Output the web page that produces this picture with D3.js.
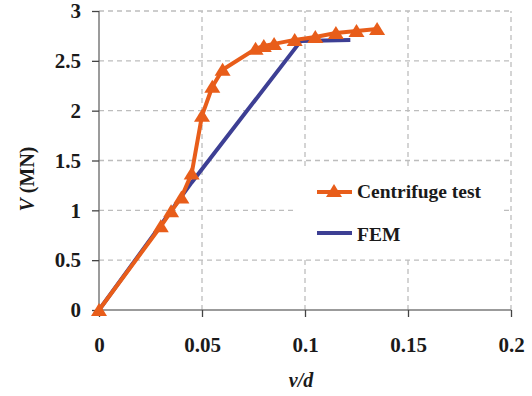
<!DOCTYPE html>
<html>
<head>
<meta charset="utf-8">
<script src="https://cdn.jsdelivr.net/npm/d3@7"></script>
<style>
  html, body { margin: 0; padding: 0; background: #fff; }
  svg { display: block; }
  text { font-family: "Liberation Serif", "Times New Roman", serif; font-weight: bold; fill: #1a1a1a; }
</style>
</head>
<body>
<svg id="chart" width="532" height="396"></svg>
<script>
// Centrifuge test: horizontal load V (MN) against normalised displacement v/d
const testDisp = [0, 0.03, 0.035, 0.04, 0.045, 0.05, 0.055, 0.06, 0.076, 0.08, 0.085, 0.095, 0.105, 0.115, 0.125, 0.135];
const testLoad = [0, 0.84, 0.99, 1.13, 1.37, 1.95, 2.24, 2.41, 2.62, 2.65, 2.67, 2.71, 2.74, 2.78, 2.80, 2.82];

// FEM prediction
const femDisp = [0, 0.045, 0.098, 0.122];
const femLoad = [0, 1.28, 2.70, 2.71];

const xTicks = [0, 0.05, 0.1, 0.15, 0.2];
const yTicks = [0, 0.5, 1, 1.5, 2, 2.5, 3];

const seriesNames = ["Centrifuge test", "FEM"];
const colors = { test: "#e85d1a", fem: "#3d3f94" };

const svg = d3.select("#chart");
const x = d3.scaleLinear().domain([0, 0.2]).range([99, 511]);
const y = d3.scaleLinear().domain([0, 3]).range([310, 11]);

// dashed grid
const grid = svg.append("g");
grid.selectAll(".gx").data(xTicks.slice(1)).join("line")
  .attr("x1", d => x(d)).attr("x2", d => x(d))
  .attr("y1", y(0)).attr("y2", y(3))
  .attr("stroke", "#bdbdbd").attr("stroke-width", 1.3).attr("stroke-dasharray", "5,4");
grid.selectAll(".gy").data(yTicks.slice(1)).join("line")
  .attr("x1", x(0)).attr("x2", x(0.2))
  .attr("y1", d => y(d)).attr("y2", d => y(d))
  .attr("stroke", "#bdbdbd").attr("stroke-width", 1.3).attr("stroke-dasharray", "5,4");

// axes
const xAxis = d3.axisBottom(x).tickValues(xTicks).tickSize(7).tickPadding(20)
  .tickFormat(d => d === 0 ? "0" : String(d));
const yAxis = d3.axisLeft(y).tickValues(yTicks).tickSize(7).tickPadding(11)
  .tickFormat(d => String(d));

const gx = svg.append("g").attr("transform", `translate(0,${y(0)})`).call(xAxis);
const gy = svg.append("g").attr("transform", `translate(${x(0)},0)`).call(yAxis);
[gx, gy].forEach(g => {
  g.select(".domain").attr("stroke", "#7a7a7a").attr("stroke-width", 1.5);
  g.selectAll(".tick line").attr("stroke", "#444").attr("stroke-width", 1.3);
  g.selectAll(".tick text").attr("font-size", 21).attr("font-family", "Liberation Serif")
    .attr("font-weight", "bold").attr("fill", "#1a1a1a");
});
gy.select(".domain").attr("d", `M0,${y(0)}V${y(3)}`);
gx.select(".domain").attr("d", `M0,0H${x(0.2) - x(0)}`).attr("transform", `translate(${x(0)},0)`);

// legend box (covers grid behind it)
svg.append("rect").attr("x", 297).attr("y", 167).attr("width", 206).attr("height", 91).attr("fill", "#fff");

const line = d3.line().x(d => x(d[0])).y(d => y(d[1]));
const femPts = femDisp.map((d, i) => [d, femLoad[i]]);
const testPts = testDisp.map((d, i) => [d, testLoad[i]]);

svg.append("path").datum(femPts).attr("d", line)
  .attr("fill", "none").attr("stroke", colors.fem).attr("stroke-width", 4).attr("stroke-linejoin", "round");
svg.append("path").datum(testPts).attr("d", line)
  .attr("fill", "none").attr("stroke", colors.test).attr("stroke-width", 4).attr("stroke-linejoin", "round");

const tri = "M0,-7L8,6L-8,6Z";
svg.selectAll(".mk").data(testPts).join("path")
  .attr("d", tri).attr("fill", colors.test)
  .attr("transform", d => `translate(${x(d[0])},${y(d[1])})`);

// legend entries
const leg = svg.append("g");
leg.append("line").attr("x1", 317).attr("x2", 352).attr("y1", 192).attr("y2", 192)
  .attr("stroke", colors.test).attr("stroke-width", 4);
leg.append("path").attr("d", tri).attr("fill", colors.test).attr("transform", "translate(334,191)");
leg.append("text").attr("x", 357).attr("y", 198).attr("font-size", 19.5).text(seriesNames[0]);
leg.append("line").attr("x1", 317).attr("x2", 352).attr("y1", 233).attr("y2", 233)
  .attr("stroke", colors.fem).attr("stroke-width", 4);
leg.append("text").attr("x", 357).attr("y", 241).attr("font-size", 19.5).text(seriesNames[1]);

// axis titles
svg.append("text").attr("x", 301).attr("y", 387).attr("text-anchor", "middle")
  .attr("font-size", 20).attr("font-style", "italic").text("v/d");
const yt = svg.append("text").attr("transform", "translate(34,179) rotate(-90)")
  .attr("text-anchor", "middle").attr("font-size", 20);
yt.append("tspan").attr("font-style", "italic").text("V");
yt.append("tspan").text(" (MN)");
</script>
</body>
</html>
